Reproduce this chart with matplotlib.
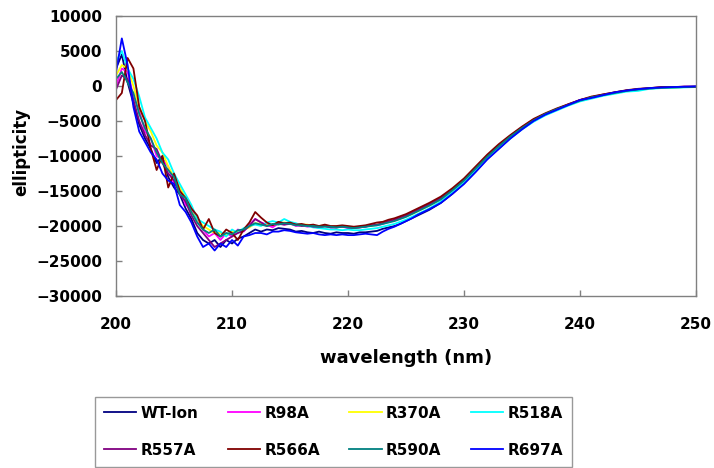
import matplotlib
matplotlib.use("Agg")
import matplotlib.pyplot as plt
import numpy as np

# wavelength grid (nm): 0.5 nm steps up to 226, 1 nm steps after
wavelength = np.concatenate([np.arange(200, 226.5, 0.5), np.arange(227, 251, 1)])

wt_lon = [2500, 4500, 500, -2500, -5500, -7500, -9000, -11000, -10000, -13000,
          -14500, -15500, -17500, -19000, -21000, -22000, -22500, -22000, -23000, -22000,
          -22500, -21800, -21500, -21000, -20500, -20800, -20500, -20600, -20300, -20400,
          -20500, -20800, -20700, -20900, -21000, -20800, -21000, -21100, -20900, -21000,
          -21000, -21100, -20900, -20900, -20800, -20700, -20400, -20200, -20000, -19700,
          -19300, -18900, -18500, -17700, -16700, -15400, -13900, -12200, -10400, -8900,
          -7400, -6100, -5000, -4100, -3400, -2700, -2100, -1700, -1300, -950,
          -700, -500, -350, -250, -200, -150, -100]
r98a = [0, 2500, 2000, -1500, -3500, -6500, -7500, -10000, -10500, -11500,
        -14000, -14500, -17000, -17500, -19000, -20500, -21500, -21000, -22000, -21000,
        -21500, -20500, -20800, -19800, -19000, -19500, -19800, -20200, -19600, -19800,
        -19600, -20000, -19900, -20100, -20000, -20300, -20000, -20200, -20200, -20100,
        -20300, -20200, -20200, -20100, -19900, -19900, -19700, -19400, -19200, -18900,
        -18600, -18200, -17800, -17000, -16100, -14800, -13400, -11700, -10000, -8500,
        -7200, -5900, -4800, -4000, -3300, -2700, -2000, -1600, -1300, -1000,
        -650, -500, -350, -200, -200, -100, -100]
r370a = [1500, 3000, 2500, 0, -3000, -5000, -6500, -8500, -9500, -11500,
         -13000, -14500, -16000, -18000, -19000, -20000, -20500, -21000, -21000, -21200,
         -20800, -20800, -20500, -20200, -19600, -19700, -19900, -19800, -19600, -19500,
         -19600, -19700, -19800, -19800, -20000, -20000, -19900, -20100, -20100, -20000,
         -20100, -20200, -20100, -20000, -20000, -19800, -19600, -19400, -19200, -18900,
         -18600, -18300, -17900, -17100, -16200, -14900, -13500, -11800, -10100, -8600,
         -7200, -6000, -4900, -4100, -3400, -2700, -2100, -1700, -1300, -1000,
         -700, -550, -350, -250, -250, -150, -150]
r518a = [3500, 5000, 2500, 1000, -1500, -4500, -6000, -7500, -9500, -10500,
         -12500, -14000, -15500, -17000, -19000, -19500, -20000, -20500, -20800, -21500,
         -20500, -21000, -20300, -20000, -19800, -20000, -19500, -19300, -19500, -19000,
         -19400, -19600, -19900, -20000, -20200, -20300, -20400, -20500, -20500, -20600,
         -20500, -20600, -20600, -20500, -20400, -20300, -20100, -19900, -19700, -19400,
         -19100, -18700, -18300, -17500, -16500, -15200, -13800, -12100, -10400, -8900,
         -7500, -6200, -5100, -4200, -3500, -2800, -2200, -1800, -1400, -1100,
         -800, -700, -400, -300, -250, -200, -150]
r557a = [-500, 1500, 1000, -2000, -5000, -7000, -8500, -9000, -11000, -12500,
         -13500, -15500, -16500, -18500, -20000, -21000, -22000, -23000, -22500, -22000,
         -21500, -21000, -20700, -20000, -19000, -19500, -20000, -19800, -19700, -19800,
         -19700, -19800, -20000, -19900, -20100, -20100, -20000, -20200, -20200, -20100,
         -20200, -20300, -20200, -20100, -19900, -19800, -19600, -19300, -19100, -18800,
         -18500, -18100, -17700, -16900, -16000, -14800, -13400, -11700, -10000, -8500,
         -7100, -5900, -4800, -4000, -3300, -2600, -2000, -1600, -1200, -900,
         -650, -450, -300, -200, -150, -100, -100]
r566a = [-2000, -1000, 4000, 2500, -3000, -5000, -9000, -12000, -10000, -14500,
         -12500, -15000, -16000, -17500, -18500, -20500, -19000, -21000, -21500, -20500,
         -21000, -22000, -20500, -19500, -18000, -18800, -19500, -19900, -19400, -19600,
         -19500, -19800, -19700, -19900, -19800, -20000, -19800, -20000, -20000, -19900,
         -20000, -20100, -20000, -19900, -19700, -19500, -19400, -19100, -18900, -18600,
         -18300, -17900, -17500, -16700, -15800, -14600, -13200, -11500, -9800, -8300,
         -7000, -5800, -4700, -3900, -3200, -2600, -2000, -1500, -1200, -900,
         -600, -400, -300, -150, -150, -100, -100]
r590a = [1000, 2000, 500, -1000, -4000, -6000, -7500, -9500, -11000, -12000,
         -13000, -15500, -16000, -18000, -19500, -20500, -21000, -20500, -21500, -21000,
         -21200, -20600, -20500, -20000, -19600, -19800, -20000, -19700, -19800, -19600,
         -19700, -19900, -19900, -20000, -20000, -20100, -20100, -20100, -20200, -20100,
         -20200, -20300, -20200, -20100, -20000, -19900, -19700, -19500, -19300, -19000,
         -18700, -18300, -17900, -17100, -16200, -14900, -13500, -11800, -10100, -8600,
         -7200, -6000, -4900, -4000, -3300, -2700, -2100, -1600, -1300, -1000,
         -700, -500, -350, -250, -200, -150, -100]
r697a = [2000, 6800, 3000, -3000, -6500, -8000, -9500, -10500, -12500, -13500,
         -14000, -17000, -18000, -19500, -21500, -23000, -22500, -23500, -22500, -23000,
         -22000, -22800, -21500, -21300, -21000, -21000, -21200, -20800, -20800, -20600,
         -20700, -20900, -21000, -21100, -21000, -21200, -21300, -21200, -21300, -21200,
         -21300, -21300, -21200, -21100, -21200, -21300, -20800, -20400, -20100, -19700,
         -19300, -18900, -18400, -17600, -16700, -15400, -14000, -12300, -10500, -9000,
         -7500, -6200, -5000, -4100, -3400, -2700, -2000, -1700, -1300, -900,
         -650, -450, -300, -200, -150, -100, -50]

labels = ['WT-lon', 'R98A', 'R370A', 'R518A', 'R557A', 'R566A', 'R590A', 'R697A']
series = [wt_lon, r98a, r370a, r518a, r557a, r566a, r590a, r697a]
colors = ['#000080', '#FF00FF', '#FFFF00', '#00FFFF', '#800080', '#800000', '#008080', '#0000FF']

plt.rcParams['font.family'] = 'DejaVu Sans'
plt.rcParams['font.weight'] = 'bold'

fig = plt.figure(figsize=(7.14, 4.68), dpi=100)
ax = fig.add_axes([0.1625, 0.3675, 0.8123, 0.5983])

lines = []
for y, lab, c in zip(series, labels, colors):
    ln, = ax.plot(wavelength, y, color=c, lw=1.3, label=lab)
    lines.append(ln)

ax.set_xlim(200, 250)
ax.set_ylim(-30000, 10000)
ax.set_xticks([200, 210, 220, 230, 240, 250])
ax.set_yticks(np.arange(-30000, 10001, 5000))
ax.tick_params(axis='both', direction='in', color='#808080', length=4, width=1, labelsize=11)
ax.tick_params(axis='x', pad=15)
ax.tick_params(axis='y', pad=10)
for s in ax.spines.values():
    s.set_color('#808080')
    s.set_linewidth(1)

ax.set_xlabel('wavelength (nm)', fontsize=13, fontweight='bold')
ax.set_ylabel('ellipticity', fontsize=12, fontweight='bold')
ax.xaxis.set_label_coords(0.5, -0.19)
ax.yaxis.set_label_coords(-0.148, 0.514)

# legend fills column by column, so reorder to read row by row
order = [0, 4, 1, 5, 2, 6, 3, 7]
leg = fig.legend([lines[i] for i in order], [labels[i] for i in order], ncol=4,
                 loc='lower left',
                 bbox_to_anchor=(95 / 714, 1 - 467 / 468, 477 / 714, 72 / 468),
                 mode='expand', fontsize=11, frameon=True, fancybox=False,
                 handlelength=2.1, handletextpad=0.3, labelspacing=1.45,
                 borderaxespad=0, borderpad=0.6)
leg.get_frame().set_edgecolor('#808080')
leg.get_frame().set_linewidth(1)
for t in leg.get_texts():
    t.set_fontweight('bold')

fig.savefig('out.png', dpi=100)
